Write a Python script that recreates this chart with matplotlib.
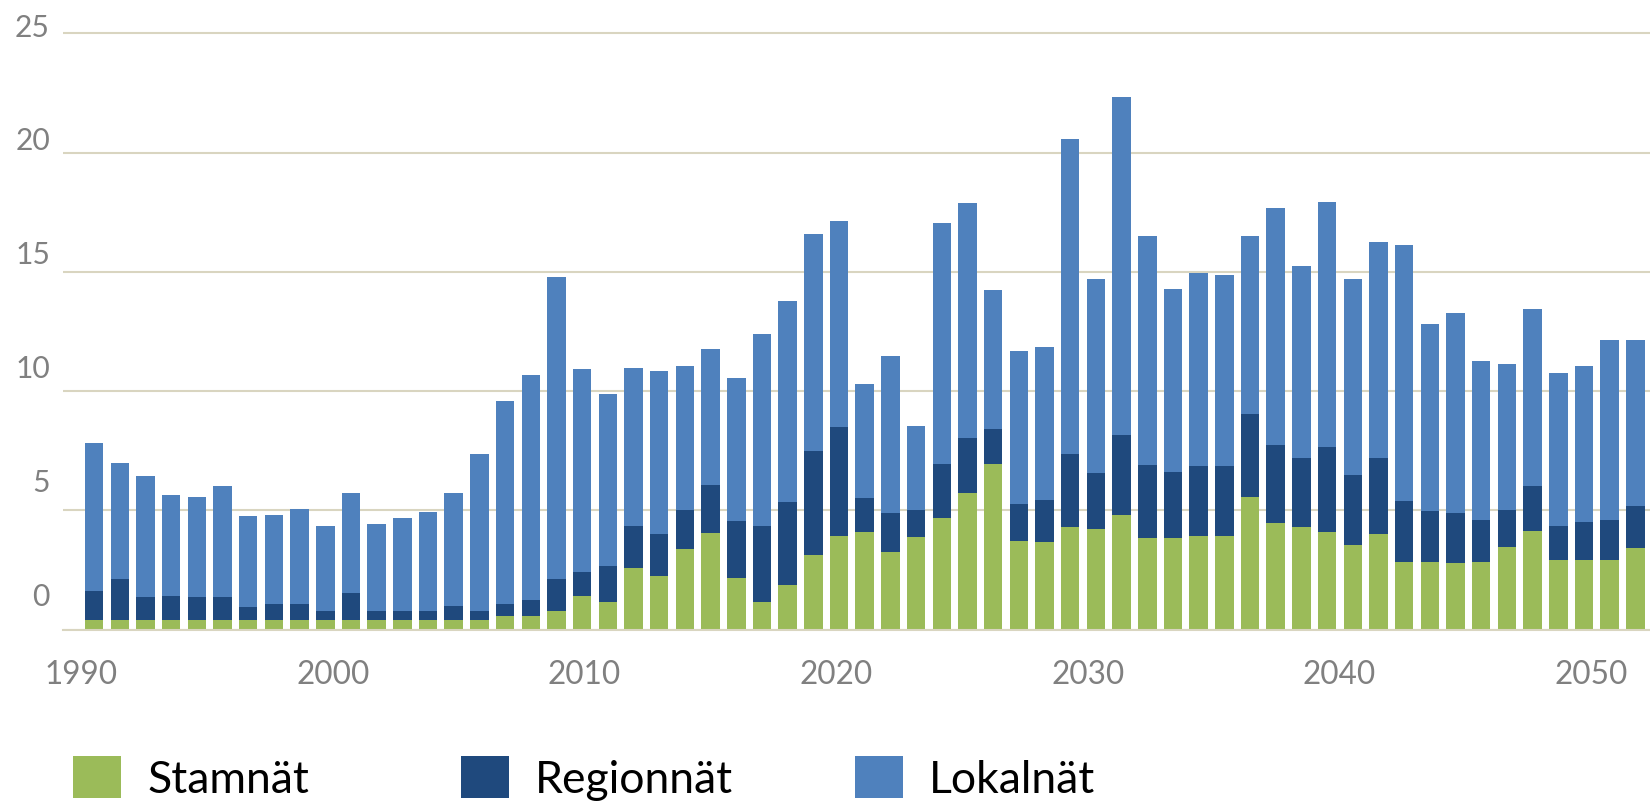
import matplotlib
matplotlib.use("Agg")
import matplotlib.pyplot as plt
import numpy as np

plt.rcParams['font.family'] = ['Lato', 'DejaVu Sans']

# data (one bar per year)
years = np.arange(1990, 2051)
stamnat = [0.39, 0.39, 0.39, 0.39, 0.39, 0.39, 0.39, 0.39, 0.39, 0.39,
           0.39, 0.39, 0.39, 0.39, 0.39, 0.39, 0.56, 0.56, 0.77, 1.40,
           1.14, 2.58, 2.24, 3.38, 4.04, 2.15, 1.14, 1.87, 3.12, 3.91,
           4.09, 3.25, 3.87, 4.69, 5.72, 6.95, 3.72, 3.68, 4.30, 4.22,
           4.80, 3.83, 3.83, 3.91, 3.91, 5.57, 4.47, 4.30, 4.09, 3.55,
           4.00, 2.84, 2.84, 2.80, 2.84, 3.46, 4.13, 2.92, 2.92, 2.92,
           3.42]
regionnat = [1.22, 1.72, 0.96, 1.01, 0.96, 0.96, 0.56, 0.69, 0.69, 0.38,
             1.14, 0.38, 0.38, 0.38, 0.60, 0.38, 0.52, 0.67, 1.34, 1.01,
             1.53, 1.76, 1.76, 1.63, 2.02, 2.41, 3.20, 3.48, 4.36, 4.58,
             1.44, 1.63, 1.14, 2.26, 2.32, 1.46, 1.55, 1.76, 3.05, 2.34,
             3.37, 3.07, 2.77, 2.95, 2.95, 3.48, 3.27, 2.90, 3.57, 2.92,
             3.20, 2.56, 2.13, 2.08, 1.76, 1.55, 1.89, 1.42, 1.60, 1.68,
             1.76]
lokalnat = [6.22, 4.88, 5.10, 4.23, 4.22, 4.67, 3.80, 3.72, 3.97, 3.57,
            4.19, 3.66, 3.92, 4.15, 4.73, 6.58, 8.51, 9.46, 12.69, 8.51,
            7.22, 6.63, 6.82, 6.04, 5.72, 6.00, 8.07, 8.43, 9.12, 8.63,
            4.77, 6.60, 3.53, 10.08, 9.83, 5.81, 6.39, 6.41, 13.21, 8.15,
            14.15, 9.62, 7.70, 8.11, 8.02, 7.47, 9.92, 8.03, 10.25, 8.24,
            9.06, 10.71, 7.85, 8.41, 6.67, 6.13, 7.44, 6.43, 6.53, 7.55,
            6.97]
x_labels = ['1990', '2000', '2010', '2020', '2030', '2040', '2050']
y_labels = ['0', '5', '10', '15', '20', '25']

stamnat = np.array(stamnat)
regionnat = np.array(regionnat)
lokalnat = np.array(lokalnat)

green, dark, light = '#9bbb59', '#1f497d', '#4f81bd'
grid_col = '#d9d5c0'
lab_col = '#808080'

fig = plt.figure(figsize=(16.5, 8.03), dpi=100)
pos = [0.0382, 0.2148, 0.9618, 0.7727]
ax = fig.add_axes(pos)

width = 0.72
b1 = ax.bar(years, stamnat, width=width, color=green, label='Stamnät')
b2 = ax.bar(years, regionnat, width=width, bottom=stamnat, color=dark, label='Regionnät')
b3 = ax.bar(years, lokalnat, width=width, bottom=stamnat + regionnat, color=light, label='Lokalnät')

ax.set_xlim(1988.79, 2050.57)
ax.set_ylim(0, 26.02)
ax.set_yticks(np.arange(0, 26, 5))
ax.yaxis.grid(True, color=grid_col, linewidth=1.5)
ax.set_axisbelow(True)
ax.tick_params(left=False, bottom=False, labelleft=False, labelbottom=False)
for s in ['top', 'right', 'left']:
    ax.spines[s].set_visible(False)
ax.spines['bottom'].set_color(grid_col)
ax.spines['bottom'].set_linewidth(1.5)

# axis labels sit on their own scale in the original chart
lab = fig.add_axes(pos, frameon=False)
lab.set_xlim(1989.28, 2052.34)
lab.set_ylim(-1.60, 25.66)
lab.set_xticks(np.arange(1990, 2051, 10))
lab.set_xticklabels(x_labels)
lab.set_yticks(np.arange(0, 26, 5))
lab.set_yticklabels(y_labels)
lab.tick_params(axis='x', length=0, pad=21, labelsize=22.7, labelcolor=lab_col)
lab.tick_params(axis='y', length=0, pad=9.4, labelsize=21.6, labelcolor=lab_col)
lab.patch.set_visible(False)

# legend entries are evenly spread like in the original, one legend per entry
for h, x0 in zip([b1, b2, b3], [73, 461, 855]):
    fig.legend(handles=[h], loc='upper left', bbox_to_anchor=(x0 / 1650, 1 - 757 / 803),
               frameon=False, fontsize=32, borderpad=0, borderaxespad=0,
               handlelength=1.07, handleheight=1.07, handletextpad=0.6)

plt.savefig('out.png', dpi=100)
